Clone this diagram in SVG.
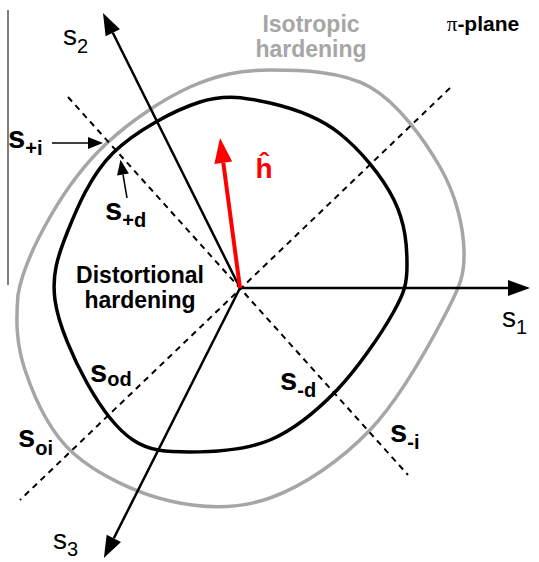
<svg xmlns="http://www.w3.org/2000/svg" width="539" height="562" viewBox="0 0 539 562">
<style>
.axis{stroke:#000;stroke-width:2.5;fill:none}
.dash{stroke:#000;stroke-width:2;stroke-dasharray:6 5;fill:none}
.iso{stroke:#a6a6a6;stroke-width:3.5;fill:none}
.dist{stroke:#000;stroke-width:3.5;fill:none}
.thin{stroke:#000;stroke-width:1.5;fill:none}
text{font-family:"Liberation Sans",Arial,sans-serif}
.ax{font-size:28px;fill:#000}
.axsub{font-size:20px}
.sb{font-size:31px;font-weight:bold;fill:#000}
.sub{font-size:20px}
.lbl{font-size:23px;font-weight:bold;text-anchor:middle}
</style>
<defs>
<marker id="ah" markerUnits="userSpaceOnUse" markerWidth="22" markerHeight="16" refX="0" refY="8" orient="auto" overflow="visible">
<path d="M0,0 L22,8 L0,16 z" fill="#000"/>
</marker>
<marker id="ahs" markerUnits="userSpaceOnUse" markerWidth="15" markerHeight="12" refX="0" refY="6" orient="auto" overflow="visible">
<path d="M0,0 L15,6 L0,12 z" fill="#000"/>
</marker>
<marker id="ahr" markerUnits="userSpaceOnUse" markerWidth="25" markerHeight="18" refX="0" refY="9" orient="auto" overflow="visible">
<path d="M0,0 L25,9 L0,18 z" fill="#ff0000"/>
</marker>
</defs>

<g id="frame-line">
<line x1="8" y1="10" x2="8" y2="285" stroke="#555" stroke-width="1.5"/>
</g>

<g id="isotropic-surface">
<path class="iso" d="M270,70 C300,70 341.7,70.8 370,87 C398.3,103.2 424.3,139.8 440,167 C455.7,194.2 463.2,225.3 464,250 C464.8,274.7 460.7,285 445,315 C429.3,345 399.2,399.5 370,430 C340.8,460.5 303.3,486.2 270,498 C236.7,509.8 202.8,508.5 170,501 C137.2,493.5 97.2,474.8 73,453 C48.8,431.2 33.8,396.3 25,370 C16.2,343.7 15.8,320.5 18,295 C22.2,269.5 35.5,242.3 50,217 C64.5,191.7 83.7,164.7 107,143 C130.3,121.3 162.8,99.2 190,87 C217.2,74.8 240,70 270,70 Z"/>
</g>

<g id="distortional-surface">
<path class="dist" d="M270,103 C292.8,108.2 318.5,116.8 339,133 C359.5,149.2 382.3,176 394,200 C405.7,224 407,246.2 407,265 C407,283.8 404.7,292.2 393,313 C381.3,333.8 357.5,368.8 337,390 C316.5,411.2 294.5,429.7 270,440 C245.5,450.3 212.8,452 190,452 C167.2,452 150.2,451.5 133,440 C115.8,428.5 100,406.3 87,383 C74,359.7 58.3,325 55,300 C51.7,275 57.3,257.5 67,233 C76.7,208.5 90.8,174.8 113,153 C135.2,131.2 173.8,110.3 200,102 C226.2,93.7 247.2,97.8 270,103 Z"/>
</g>

<g id="connectors">
<line class="dash" x1="450" y1="88" x2="20" y2="500"/>
<line class="dash" x1="68" y1="97" x2="408" y2="475"/>
<line class="axis" x1="240" y1="288" x2="508" y2="288" marker-end="url(#ah)"/>
<line class="axis" x1="240" y1="288" x2="112.8" y2="32.7" marker-end="url(#ah)"/>
<line class="axis" x1="240" y1="288" x2="113.8" y2="538.3" marker-end="url(#ah)"/>
<line x1="240" y1="288" x2="223.3" y2="162.8" stroke="#ff0000" stroke-width="4" marker-end="url(#ahr)"/>
<line class="thin" x1="52" y1="143" x2="88" y2="143" marker-end="url(#ahs)"/>
<line class="thin" x1="127" y1="198" x2="123" y2="174.5" marker-end="url(#ahs)"/>
</g>

<g id="axis-labels">
<text class="ax" x="63" y="45">s<tspan class="axsub" dy="8">2</tspan></text>
<text class="ax" x="502" y="327">s<tspan class="axsub" dy="7">1</tspan></text>
<text class="ax" x="53" y="549">s<tspan class="axsub" dy="7">3</tspan></text>
</g>

<g id="titles">
<text class="lbl" x="311" y="32" fill="#a6a6a6">Isotropic</text>
<text class="lbl" x="311" y="57" fill="#a6a6a6">hardening</text>
<text x="483" y="31" font-size="21" font-weight="bold" text-anchor="middle" fill="#000"><tspan font-family="'Liberation Serif',serif" font-weight="normal">π</tspan>-plane</text>
<text class="lbl" x="140" y="283" fill="#000">Distortional</text>
<text class="lbl" x="140" y="308" fill="#000">hardening</text>
<text x="264" y="178" font-size="28" font-weight="bold" text-anchor="middle" fill="#ff0000">ĥ</text>
</g>

<g id="point-labels">
<text class="sb" x="8" y="148">s<tspan class="sub" dy="7">+i</tspan></text>
<text class="sb" x="105" y="220">s<tspan class="sub" dy="7">+d</tspan></text>
<text class="sb" x="90" y="382">s<tspan class="sub" dy="4">od</tspan></text>
<text class="sb" x="18" y="447">s<tspan class="sub" dy="8">oi</tspan></text>
<text class="sb" x="280" y="390">s<tspan class="sub" dy="7">-d</tspan></text>
<text class="sb" x="390" y="442">s<tspan class="sub" dy="7">-i</tspan></text>
</g>
</svg>
